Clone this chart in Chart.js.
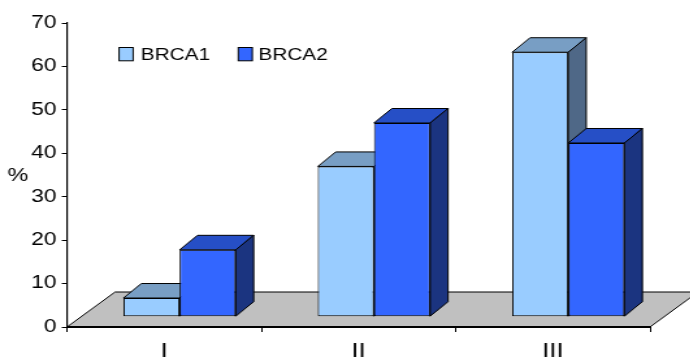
<!DOCTYPE html>
<html>
<head>
<meta charset="utf-8">
<script src="https://cdn.jsdelivr.net/npm/chart.js@4.4.1/dist/chart.umd.min.js"></script>
<style>
  html, body { margin: 0; padding: 0; background: #fff; overflow: hidden; }
  #wrap { width: 531px; height: 359px; transform: scale(1.3, 1); transform-origin: 0 0; }
</style>
</head>
<body>
<div id="wrap"><canvas id="c" width="531" height="359"></canvas></div>
<script>
// Stage of disease and share of carriers (%)
const categories = ['I', 'II', 'III'];
const seriesNames = ['BRCA1', 'BRCA2'];
const brca1 = [4.3, 34.6, 60.9];
const brca2 = [15.4, 44.6, 40.0];
const yTickValues = [0, 10, 20, 30, 40, 50, 60, 70];

const FONT = '"Liberation Sans", Arial, sans-serif';

// oblique projection used for the bar boxes and the floor
const BAR_DEPTH = { dx: 13.8, dy: -14.5 };
const FLOOR_DEPTH = { dx: 37, dy: -35 };
const BAR_SHIFT = { dx: 11.9, dy: -10.3 };

function poly(ctx, pts, fill) {
  ctx.beginPath();
  ctx.moveTo(pts[0][0], pts[0][1]);
  for (let i = 1; i < pts.length; i++) ctx.lineTo(pts[i][0], pts[i][1]);
  ctx.closePath();
  ctx.fillStyle = fill;
  ctx.fill();
  ctx.stroke();
}

function drawFaces(ctx, ds, meta) {
  ctx.save();
  ctx.strokeStyle = '#000';
  ctx.lineWidth = 1;
  meta.data.forEach(el => {
    const { x, y, base, width } = el.getProps(['x', 'y', 'base', 'width'], true);
    const l = x - width / 2, r = x + width / 2;
    const dx = BAR_DEPTH.dx, dy = BAR_DEPTH.dy;
    poly(ctx, [[l, y], [l + dx, y + dy], [r + dx, y + dy], [r, y]], ds.topColor);
    poly(ctx, [[r, y], [r + dx, y + dy], [r + dx, base + dy], [r, base]], ds.sideColor);
  });
  ctx.restore();
}

const boxes3d = {
  id: 'boxes3d',
  beforeDraw(chart) {
    const { ctx, scales: { x, y } } = chart;
    const y0 = y.getPixelForValue(0);
    ctx.save();
    ctx.strokeStyle = '#000';
    ctx.lineWidth = 1;
    poly(ctx, [
      [x.left, y0], [x.right, y0],
      [x.right + FLOOR_DEPTH.dx, y0 + FLOOR_DEPTH.dy],
      [x.left + FLOOR_DEPTH.dx, y0 + FLOOR_DEPTH.dy]
    ], '#c0c0c0');
    ctx.restore();
  },
  // series are painted below, front to back in series order
  beforeDatasetDraw() { return false; },
  afterDatasetsDraw(chart) {
    const ctx = chart.ctx;
    ctx.save();
    ctx.translate(BAR_SHIFT.dx, BAR_SHIFT.dy);
    chart.data.datasets.forEach((ds, i) => {
      const meta = chart.getDatasetMeta(i);
      meta.controller.draw();
      drawFaces(ctx, ds, meta);
    });
    ctx.restore();
  },
  afterDraw(chart) {
    const ctx = chart.ctx;
    ctx.save();
    // legend
    const keyX = [91.6, 183.3];
    const textX = [108.3, 198.8];
    ctx.font = '16px ' + FONT;
    ctx.textBaseline = 'alphabetic';
    ctx.textAlign = 'left';
    chart.data.datasets.forEach((ds, i) => {
      ctx.fillStyle = ds.backgroundColor;
      ctx.fillRect(keyX[i], 47.5, 10.8, 13.3);
      ctx.strokeStyle = '#000';
      ctx.lineWidth = 1;
      ctx.strokeRect(keyX[i], 47.5, 10.8, 13.3);
      ctx.fillStyle = '#000';
      ctx.fillText(ds.label, textX[i], 60.3);
    });
    // value axis caption
    ctx.font = '18px ' + FONT;
    ctx.textAlign = 'center';
    ctx.textBaseline = 'middle';
    ctx.fillText('%', 13.8, 176);
    ctx.restore();
  }
};

new Chart(document.getElementById('c'), {
  type: 'bar',
  data: {
    labels: categories,
    datasets: [
      {
        label: seriesNames[0], data: brca1,
        backgroundColor: '#99ccff', topColor: '#789ec4', sideColor: '#4f6887',
        borderColor: '#000', borderWidth: 1, borderSkipped: false
      },
      {
        label: seriesNames[1], data: brca2,
        backgroundColor: '#3366ff', topColor: '#264fc6', sideColor: '#1b3480',
        borderColor: '#000', borderWidth: 1, borderSkipped: false
      }
    ]
  },
  options: {
    responsive: false,
    animation: false,
    events: [],
    layout: { padding: { top: 23, right: 31, left: 0, bottom: 0 } },
    datasets: { bar: { categoryPercentage: 0.578, barPercentage: 1 } },
    plugins: { legend: { display: false }, tooltip: { enabled: false } },
    scales: {
      x: {
        offset: true,
        afterFit(s) { s.height = 32; },
        grid: { drawOnChartArea: false, drawTicks: true, tickLength: 5, color: '#000', offset: true },
        border: { display: true, color: '#000', width: 2 },
        ticks: { color: '#000', font: { family: FONT, size: 20 }, padding: 7 }
      },
      y: {
        min: 0, max: 70,
        afterFit(s) { s.width = 51.5; },
        afterBuildTicks(s) { s.ticks = yTickValues.map(v => ({ value: v })); },
        grid: { drawOnChartArea: false, drawTicks: true, tickLength: 4, color: '#000' },
        border: { display: true, color: '#000', width: 1.2 },
        ticks: { color: '#000', font: { family: FONT, size: 17.5 }, padding: 4 }
      }
    }
  },
  plugins: [boxes3d]
});
</script>
</body>
</html>
